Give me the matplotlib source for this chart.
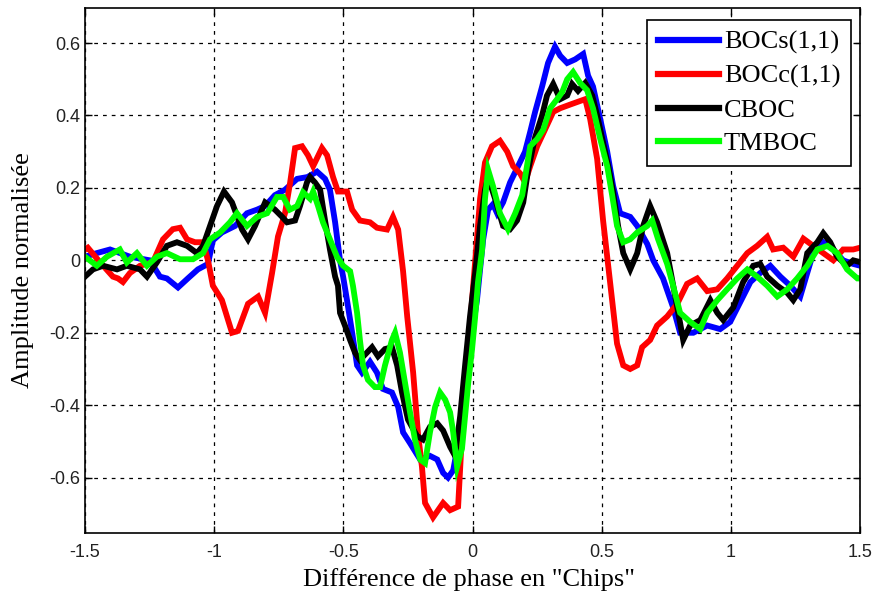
import matplotlib
matplotlib.use("Agg")
import matplotlib.pyplot as plt
import numpy as np

# correlation curves, delay in chips vs normalised amplitude
x_bocs = [-1.5, -1.454, -1.403, -1.326, -1.249, -1.210, -1.183, -1.140, -1.102, -1.063,
          -1.024, -1.005, -0.970, -0.919, -0.873, -0.834, -0.803, -0.765, -0.726, -0.679,
          -0.639, -0.602, -0.571, -0.552, -0.532, -0.513, -0.501, -0.486, -0.466, -0.447,
          -0.428, -0.397, -0.370, -0.347, -0.312, -0.288, -0.269, -0.242, -0.203, -0.165,
          -0.137, -0.114, -0.095, -0.075, -0.048, -0.029, -0.002, 0.017, 0.029, 0.041,
          0.060, 0.079, 0.095, 0.118, 0.145, 0.176, 0.203, 0.223, 0.242, 0.269,
          0.292, 0.319, 0.339, 0.366, 0.397, 0.428, 0.447, 0.466, 0.494, 0.521,
          0.544, 0.571, 0.610, 0.637, 0.676, 0.699, 0.737, 0.776, 0.803, 0.854,
          0.908, 0.958, 0.997, 1.036, 1.075, 1.113, 1.152, 1.191, 1.229, 1.268,
          1.295, 1.318, 1.357, 1.396, 1.434, 1.473, 1.5]
y_bocs = [0.01, 0.02, 0.03, 0.01, 0.0, -0.045, -0.05, -0.075, -0.05, -0.025,
          -0.01, 0.055, 0.077, 0.095, 0.13, 0.14, 0.15, 0.18, 0.195, 0.225,
          0.23, 0.245, 0.225, 0.195, 0.105, 0.0, -0.045, -0.11, -0.2, -0.29,
          -0.31, -0.28, -0.31, -0.355, -0.365, -0.405, -0.475, -0.505, -0.55, -0.54,
          -0.55, -0.587, -0.6, -0.58, -0.475, -0.34, -0.2, -0.11, -0.025, 0.058,
          0.14, 0.155, 0.13, 0.16, 0.215, 0.26, 0.30, 0.355, 0.41, 0.48,
          0.545, 0.59, 0.565, 0.545, 0.555, 0.57, 0.51, 0.48, 0.39, 0.30,
          0.205, 0.13, 0.12, 0.095, 0.045, 0.0, -0.05, -0.13, -0.2, -0.2,
          -0.18, -0.19, -0.17, -0.115, -0.06, -0.035, -0.015, -0.045, -0.07, -0.1,
          -0.035, 0.02, 0.05, 0.03, 0.0, -0.01, -0.015]

x_bocc = [-1.5, -1.489, -1.442, -1.392, -1.372, -1.353, -1.326, -1.287, -1.237, -1.198,
          -1.160, -1.132, -1.105, -1.074, -1.043, -1.024, -1.005, -0.970, -0.931, -0.908,
          -0.869, -0.830, -0.803, -0.776, -0.753, -0.726, -0.706, -0.687, -0.660, -0.637,
          -0.617, -0.583, -0.563, -0.540, -0.521, -0.486, -0.466, -0.436, -0.397, -0.370,
          -0.331, -0.308, -0.288, -0.269, -0.253, -0.230, -0.211, -0.196, -0.184, -0.153,
          -0.114, -0.087, -0.056, -0.041, -0.021, -0.002, 0.017, 0.029, 0.048, 0.075,
          0.106, 0.134, 0.157, 0.184, 0.203, 0.223, 0.250, 0.273, 0.312, 0.339,
          0.377, 0.416, 0.436, 0.455, 0.482, 0.505, 0.532, 0.559, 0.583, 0.610,
          0.637, 0.656, 0.687, 0.714, 0.753, 0.792, 0.830, 0.869, 0.908, 0.947,
          0.985, 1.024, 1.063, 1.101, 1.140, 1.163, 1.202, 1.241, 1.280, 1.318,
          1.357, 1.396, 1.434, 1.473, 1.5]
y_bocc = [0.03, 0.035, -0.005, -0.045, -0.05, -0.06, -0.035, -0.015, -0.005, 0.058,
          0.086, 0.09, 0.058, 0.05, 0.05, 0.0, -0.07, -0.11, -0.2, -0.195,
          -0.12, -0.10, -0.145, -0.035, 0.066, 0.13, 0.215, 0.31, 0.315, 0.29,
          0.26, 0.31, 0.29, 0.23, 0.19, 0.19, 0.14, 0.11, 0.105, 0.09,
          0.085, 0.12, 0.085, -0.03, -0.155, -0.31, -0.48, -0.57, -0.67, -0.71,
          -0.67, -0.69, -0.68, -0.48, -0.29, -0.11, 0.06, 0.17, 0.27, 0.315,
          0.33, 0.30, 0.26, 0.24, 0.215, 0.26, 0.315, 0.35, 0.41, 0.42,
          0.43, 0.44, 0.445, 0.39, 0.28, 0.11, -0.06, -0.23, -0.29, -0.30,
          -0.29, -0.24, -0.22, -0.18, -0.155, -0.12, -0.065, -0.05, -0.085, -0.08,
          -0.05, -0.015, 0.02, 0.04, 0.065, 0.03, 0.035, 0.01, 0.06, 0.04,
          0.02, 0.0, 0.03, 0.03, 0.035]

x_cboc = [-1.5, -1.469, -1.430, -1.376, -1.338, -1.287, -1.260, -1.222, -1.183, -1.144,
          -1.105, -1.067, -1.043, -1.016, -0.989, -0.962, -0.931, -0.892, -0.869, -0.842,
          -0.803, -0.765, -0.737, -0.718, -0.687, -0.668, -0.641, -0.629, -0.610, -0.590,
          -0.571, -0.552, -0.532, -0.521, -0.513, -0.494, -0.474, -0.455, -0.436, -0.409,
          -0.389, -0.366, -0.339, -0.312, -0.292, -0.273, -0.250, -0.215, -0.192, -0.165,
          -0.137, -0.114, -0.087, -0.068, -0.048, -0.029, -0.010, 0.010, 0.029, 0.048,
          0.060, 0.087, 0.118, 0.145, 0.172, 0.196, 0.215, 0.242, 0.269, 0.288,
          0.312, 0.339, 0.366, 0.385, 0.408, 0.436, 0.463, 0.482, 0.505, 0.525,
          0.544, 0.563, 0.583, 0.610, 0.637, 0.660, 0.687, 0.714, 0.753, 0.792,
          0.815, 0.842, 0.881, 0.920, 0.947, 0.970, 1.009, 1.047, 1.086, 1.113,
          1.140, 1.179, 1.218, 1.241, 1.268, 1.295, 1.334, 1.357, 1.384, 1.411,
          1.449, 1.473, 1.5]
y_cboc = [-0.045, -0.025, -0.015, -0.025, -0.015, -0.025, -0.045, -0.006, 0.04, 0.05,
          0.04, 0.02, 0.04, 0.095, 0.15, 0.19, 0.16, 0.085, 0.058, 0.095,
          0.16, 0.14, 0.12, 0.105, 0.11, 0.15, 0.215, 0.23, 0.215, 0.195,
          0.11, 0.03, -0.045, -0.07, -0.145, -0.18, -0.22, -0.255, -0.275, -0.255,
          -0.24, -0.265, -0.245, -0.24, -0.29, -0.365, -0.44, -0.485, -0.495, -0.46,
          -0.45, -0.47, -0.515, -0.54, -0.43, -0.29, -0.155, -0.035, 0.095, 0.195,
          0.23, 0.17, 0.095, 0.086, 0.11, 0.16, 0.25, 0.34, 0.40, 0.455,
          0.487, 0.445, 0.455, 0.487, 0.468, 0.49, 0.455, 0.40, 0.325, 0.26,
          0.188, 0.095, 0.02, -0.025, 0.02, 0.095, 0.15, 0.105, 0.02, -0.13,
          -0.22, -0.18, -0.165, -0.11, -0.145, -0.165, -0.13, -0.06, -0.015, -0.01,
          -0.045, -0.07, -0.09, -0.11, -0.08, 0.02, 0.05, 0.075, 0.05, 0.01,
          -0.015, 0.0, -0.005]

x_tmboc = [-1.5, -1.454, -1.415, -1.365, -1.338, -1.299, -1.260, -1.222, -1.183, -1.132,
           -1.082, -1.043, -1.016, -0.977, -0.939, -0.912, -0.873, -0.834, -0.795, -0.757,
           -0.733, -0.707, -0.679, -0.656, -0.629, -0.617, -0.598, -0.579, -0.552, -0.525,
           -0.501, -0.474, -0.463, -0.447, -0.436, -0.424, -0.405, -0.378, -0.358, -0.339,
           -0.312, -0.300, -0.281, -0.261, -0.242, -0.223, -0.203, -0.184, -0.165, -0.145,
           -0.126, -0.106, -0.087, -0.075, -0.060, -0.041, -0.029, -0.017, -0.002, 0.010,
           0.021, 0.037, 0.048, 0.060, 0.079, 0.106, 0.137, 0.165, 0.192, 0.223,
           0.250, 0.273, 0.300, 0.327, 0.347, 0.366, 0.389, 0.416, 0.443, 0.466,
           0.494, 0.521, 0.540, 0.559, 0.583, 0.610, 0.637, 0.676, 0.695, 0.718,
           0.753, 0.776, 0.803, 0.842, 0.881, 0.908, 0.947, 0.985, 1.024, 1.063,
           1.101, 1.140, 1.179, 1.218, 1.256, 1.295, 1.334, 1.373, 1.411, 1.449,
           1.489, 1.5]
y_tmboc = [0.01, -0.015, 0.01, 0.03, -0.006, 0.02, -0.015, 0.01, 0.02, 0.003,
           0.003, 0.02, 0.058, 0.077, 0.105, 0.13, 0.095, 0.12, 0.13, 0.175,
           0.175, 0.14, 0.15, 0.188, 0.17, 0.19, 0.15, 0.105, 0.058, 0.01,
           -0.015, -0.03, -0.07, -0.145, -0.22, -0.29, -0.33, -0.35, -0.35, -0.29,
           -0.22, -0.2, -0.255, -0.34, -0.42, -0.495, -0.55, -0.56, -0.475, -0.405,
           -0.365, -0.385, -0.42, -0.475, -0.57, -0.52, -0.43, -0.34, -0.245, -0.155,
           -0.06, 0.03, 0.17, 0.25, 0.205, 0.13, 0.086, 0.13, 0.18, 0.315,
           0.335, 0.36, 0.42, 0.445, 0.465, 0.5, 0.52, 0.49, 0.47, 0.42,
           0.335, 0.26, 0.18, 0.095, 0.05, 0.058, 0.077, 0.095, 0.11, 0.058,
           -0.01, -0.07, -0.145, -0.17, -0.19, -0.145, -0.11, -0.08, -0.05, -0.025,
           -0.045, -0.07, -0.1, -0.08, -0.05, -0.015, 0.03, 0.04, 0.02, -0.025,
           -0.05, -0.05]

series = [
    ("BOCs(1,1)", x_bocs, y_bocs, "#0000ff"),
    ("BOCc(1,1)", x_bocc, y_bocc, "#ff0000"),
    ("CBOC", x_cboc, y_cboc, "#000000"),
    ("TMBOC", x_tmboc, y_tmboc, "#00ff00"),
]
xticks = [-1.5, -1, -0.5, 0, 0.5, 1, 1.5]
yticks = [-0.6, -0.4, -0.2, 0, 0.2, 0.4, 0.6]

fig = plt.figure(figsize=(8.75, 5.97), dpi=100)
ax = fig.add_axes([0.0971, 0.1072, 0.886, 0.8795])

for name, xs, ys, col in series:
    ax.plot(xs, ys, color=col, lw=4.2, label=name, solid_joinstyle="miter")

ax.set_xlim(-1.5, 1.5)
ax.set_ylim(-0.753, 0.697)
ax.set_xticks(xticks)
ax.set_xticklabels(["-1.5", "-1", "-0.5", "0", "0.5", "1", "1.5"])
ax.set_yticks(yticks)
ax.set_yticklabels(["-0.6", "-0.4", "-0.2", "0", "0.2", "0.4", "0.6"])
ax.tick_params(direction="in", length=5, width=1, top=True, right=True,
               labelsize=13)
ax.tick_params(axis="x", pad=8)
ax.tick_params(axis="y", pad=3.5)
for lbl in ax.get_xticklabels() + ax.get_yticklabels():
    lbl.set_family("Liberation Sans")
    lbl.set_color("#222222")
for sp in ax.spines.values():
    sp.set_linewidth(1.2)

ax.grid(True, color="black", linestyle=(0, (3, 4)), linewidth=0.9)
ax.set_axisbelow(True)

ax.set_xlabel('Différence de phase en "Chips"', family="Liberation Serif",
              fontsize=19, va="center")
ax.xaxis.set_label_coords(0.495, -0.0895)
ax.set_ylabel("Amplitude normalisée", family="Liberation Serif",
              fontsize=19, va="center")
ax.yaxis.set_label_coords(-0.08, 0.5)

leg = ax.legend(loc="upper right", bbox_to_anchor=(0.988, 0.977), borderaxespad=0,
                fancybox=False, edgecolor="black", framealpha=1, borderpad=0.4,
                handlelength=2.3, handletextpad=0.2, labelspacing=0.38,
                prop={"family": "Liberation Serif", "size": 19})
leg.get_frame().set_linewidth(1.2)
for h in leg.get_lines():
    h.set_linewidth(4.5)

fig.savefig("out.png", dpi=100)
